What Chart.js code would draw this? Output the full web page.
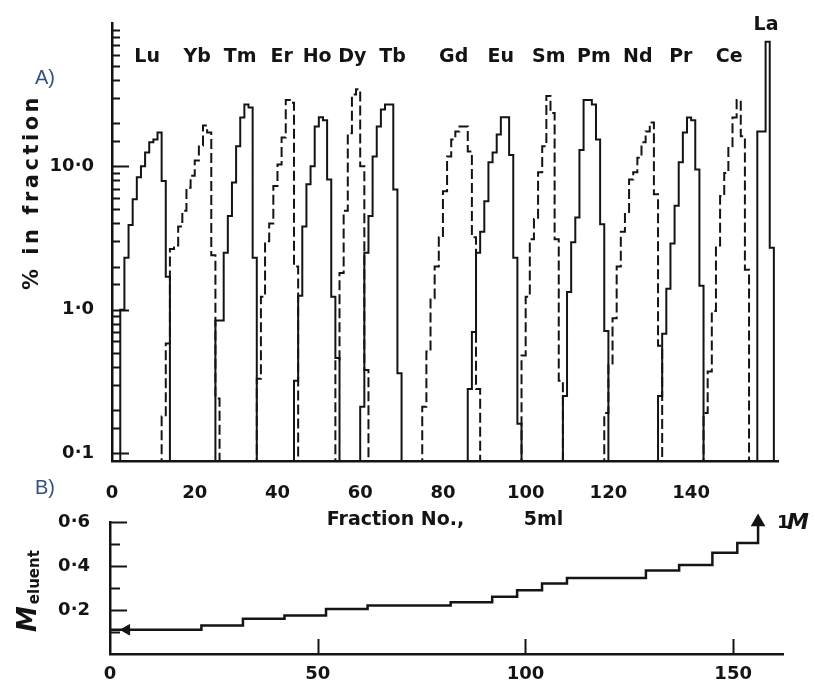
<!DOCTYPE html>
<html lang="en">
<head>
<meta charset="utf-8">
<title>Lanthanides - elution</title>
<script src="https://cdn.jsdelivr.net/npm/chart.js@4.4.1/dist/chart.umd.min.js"></script>
<style>
  html, body { margin: 0; padding: 0; background: #ffffff; }
  canvas { position: absolute; left: 0; }
  #canvaA { top: 0; }
  #canvaB { top: 470px; }
</style>
</head>
<body>
<canvas id="canvaA" width="815" height="540"></canvas>
<canvas id="canvaB" width="815" height="214"></canvas>
<script>
// lanthanides dans l'ordre d'élution
const elements = ['Lu', 'Yb', 'Tm', 'Er', 'Ho', 'Dy', 'Tb', 'Gd', 'Eu', 'Sm', 'Pm', 'Nd', 'Pr', 'Ce', 'La'];

// première fraction (5 ml) de chaque pic
const premiereFraction = [2, 12, 25, 35, 44, 54, 60, 75, 86, 99, 109, 119, 132, 143, 156];

// fraction au-dessus de laquelle on écrit le nom
const fractionNom = [8.5, 20.6, 31, 41, 49.6, 58.1, 67.8, 82.6, 94, 105.6, 116.5, 127.1, 137.5, 149.2, 158.1];

// % dans chaque fraction successive
const pctLu = [1.0, 2.3, 3.9, 5.9, 8.4, 10, 12.5, 14.7, 15.4, 17.2, 7.9, 1.7];
const pctYb = [0.18, 0.58, 2.65, 2.8, 3.8, 4.9, 7.1, 8.6, 11, 14, 19.3, 17.2, 2.4, 0.24];
const pctTm = [0.84, 0.84, 2.5, 4.5, 7.7, 13.8, 21.9, 27, 25.7, 2.3];
const pctEr = [0.33, 1.23, 3.0, 4.0, 7.3, 10.3, 15.9, 29, 27.8, 2.0];
const pctHo = [0.32, 1.25, 3.8, 7.5, 10, 19, 22, 21, 8.1, 1.23, 0.46];
const pctDy = [0.45, 1.8, 4.9, 17, 31.7, 34.5, 10, 0.38];
const pctTb = [0.21, 2.5, 4.5, 11.7, 19, 24.9, 27, 27, 6.9, 0.36];
const pctGd = [0.21, 0.51, 1.2, 2.0, 3.2, 6.7, 11.7, 15.4, 17.5, 19, 19, 12.7, 3.2, 0.28];
const pctEu = [0.28, 0.7, 2.5, 3.5, 5.7, 10.7, 12.5, 16.7, 22, 22, 12, 2.3, 0.16];
const pctSm = [0.48, 1.23, 3.1, 4.3, 9.1, 13.8, 31, 23.6, 3.1, 0.32];
const pctPm = [0.25, 1.33, 2.95, 4.4, 13, 29, 29, 27, 15.4, 3.95, 0.71];
const pctNd = [0.19, 0.41, 0.87, 2.0, 3.5, 4.8, 8.1, 9.1, 11.5, 14.7, 17.5, 20.2, 6.4, 0.56];
const pctPr = [0.25, 0.68, 1.4, 2.9, 5.3, 10.7, 17.2, 21.9, 21, 9.5, 1.47];
const pctCe = [0.19, 0.37, 0.98, 2.8, 6.2, 9, 13.8, 21.9, 29, 16.2, 1.9];
const pctLa = [17.5, 17.5, 74, 2.7];
const pourcentages = [pctLu, pctYb, pctTm, pctEr, pctHo, pctDy, pctTb, pctGd, pctEu, pctSm, pctPm, pctNd, pctPr, pctCe, pctLa];

// graduations
const graduationsPct = [0.1, 1, 10];
const graduationsFraction = [0, 20, 40, 60, 80, 100, 120, 140];
const graduationsFractionB = [0, 50, 100, 150];
const graduationsMolarite = [0.2, 0.4, 0.6];

// gradient d'éluant : fraction où commence chaque palier et sa molarité
const fractionPalier = [0, 22, 32, 42, 52, 62, 82, 92, 98, 104, 110, 129, 137, 145, 151];
const molarite = [0.11, 0.13, 0.16, 0.175, 0.205, 0.22, 0.235, 0.26, 0.29, 0.32, 0.345, 0.38, 0.405, 0.46, 0.505];
const fractionPassage1M = 156;
const molariteFleche = 0.6;

const noir = '#141414';
const plancher = 0.05; // sous l'axe, pour fermer les pics

// un pic = histogramme fraction par fraction
function histogramme(debut, valeurs) {
    const pts = [{x: debut, y: plancher}];
    valeurs.forEach((v, k) => pts.push({x: debut + k + 1, y: v}));
    pts.push({x: debut + valeurs.length, y: plancher});
    return pts;
}

const virgule = v => v.toFixed(1).replace('.', '\u00b7');

// ----- graphique A -----
const decorA = {
    id: 'decorA',
    afterDraw(chart) {
        const {ctx, chartArea, scales: {x, y}} = chart;
        ctx.save();
        ctx.strokeStyle = noir;
        ctx.lineWidth = 2;
        // graduations tournées vers l'intérieur
        y.ticks.forEach(t => {
            if (t.value < 0.099 || t.value > 99) return;
            const lg = Math.log10(t.value);
            const majeur = Math.abs(lg - Math.round(lg)) < 1e-6;
            const py = Math.round(y.getPixelForValue(t.value)) + 0.5;
            ctx.beginPath();
            ctx.moveTo(chartArea.left, py);
            ctx.lineTo(chartArea.left + (majeur ? 17 : 8), py);
            ctx.stroke();
        });

        ctx.fillStyle = noir;
        ctx.textAlign = 'center';
        ctx.textBaseline = 'middle';
        ctx.font = 'bold 19px "DejaVu Sans"';
        elements.forEach((nom, i) => {
            const haut = nom === 'La' ? 2 : 34;
            ctx.fillText(nom, x.getPixelForValue(fractionNom[i]), chartArea.top + haut);
        });

        // titre de l'axe y
        ctx.save();
        ctx.translate(33, 192);
        ctx.rotate(-Math.PI / 2);
        ctx.font = 'bold 21px "DejaVu Sans"';
        ctx.letterSpacing = '3.5px';
        ctx.fillText('% in fraction', 0, 0);
        ctx.restore();

        ctx.fillStyle = '#33507e';
        ctx.textAlign = 'left';
        ctx.font = '20px "Liberation Sans"';
        ctx.fillText('A)', 35, 78);
        ctx.restore();
    }
};

new Chart(document.getElementById('canvaA'), {
    type: 'line',
    data: {
        datasets: elements.map((nom, i) => ({
            label: nom,
            data: histogramme(premiereFraction[i], pourcentages[i]),
            stepped: 'after',
            borderColor: noir,
            borderWidth: 2,
            borderDash: i % 2 ? [10, 4] : [],
            pointRadius: 0,
            fill: false
        }))
    },
    options: {
        responsive: false,
        animation: false,
        layout: { padding: { left: 0, right: 37, top: 23, bottom: 0 } },
        plugins: { legend: { display: false }, tooltip: { enabled: false } },
        scales: {
            x: {
                type: 'linear',
                min: 0,
                max: 161,
                grid: { display: false },
                border: { display: true, color: noir, width: 2.5 },
                afterBuildTicks: s => { s.ticks = graduationsFraction.map(value => ({value})); },
                afterFit: s => { s.height = 540 - 461; },
                ticks: {
                    autoSkip: false,
                    maxRotation: 0,
                    padding: 14,
                    color: noir,
                    font: { family: 'DejaVu Sans', size: 18, weight: 'bold' }
                },
                title: {
                    display: true,
                    text: 'Fraction No.,         5ml',
                    color: noir,
                    padding: { top: 0, bottom: 9 },
                    font: { family: 'DejaVu Sans', size: 19, weight: 'bold' }
                }
            },
            y: {
                type: 'logarithmic',
                min: 0.088,
                max: 100,
                grid: { display: false },
                border: { display: true, color: noir, width: 2.5 },
                afterFit: s => { s.width = 112; },
                ticks: {
                    autoSkip: false,
                    padding: 10,
                    color: noir,
                    font: { family: 'DejaVu Sans', size: 18, weight: 'bold' },
                    callback: v => graduationsPct.some(g => Math.abs(g - v) < 1e-9) ? virgule(v) : ''
                }
            }
        }
    },
    plugins: [decorA]
});

// ----- graphique B -----
const decorB = {
    id: 'decorB',
    afterDraw(chart) {
        const {ctx, chartArea, scales: {x, y}} = chart;
        ctx.save();
        ctx.strokeStyle = noir;
        ctx.lineWidth = 2;
        y.ticks.forEach(t => {
            if (t.value <= 0) return;
            const majeur = Math.round(t.value * 10) % 2 === 0;
            const py = Math.round(y.getPixelForValue(t.value)) + 0.5;
            ctx.beginPath();
            ctx.moveTo(chartArea.left, py);
            ctx.lineTo(chartArea.left + (majeur ? 17 : 10), py);
            ctx.stroke();
        });
        x.ticks.forEach(t => {
            if (t.value <= 0) return;
            const px = Math.round(x.getPixelForValue(t.value)) + 0.5;
            ctx.beginPath();
            ctx.moveTo(px, chartArea.bottom);
            ctx.lineTo(px, chartArea.bottom - 15);
            ctx.stroke();
        });

        ctx.fillStyle = noir;
        // M eluent
        ctx.save();
        ctx.translate(36, 632 - 470);
        ctx.rotate(-Math.PI / 2);
        ctx.textAlign = 'left';
        ctx.textBaseline = 'alphabetic';
        ctx.font = 'italic bold 26px "DejaVu Sans"';
        ctx.fillText('M', 0, 0);
        const w = ctx.measureText('M').width;
        ctx.font = 'bold 15px "DejaVu Sans"';
        ctx.fillText('eluent', w + 2, 3);
        ctx.restore();

        // 1 M au bout de la flèche
        const ax = x.getPixelForValue(fractionPassage1M);
        const ay = y.getPixelForValue(molariteFleche);
        ctx.textAlign = 'left';
        ctx.textBaseline = 'middle';
        ctx.font = 'bold 18px "DejaVu Sans"';
        ctx.fillText('1', ax + 19, ay + 1);
        ctx.font = 'italic bold 22px "DejaVu Sans"';
        ctx.fillText('M', ax + 29, ay + 1);

        ctx.fillStyle = '#33507e';
        ctx.font = '20px "Liberation Sans"';
        ctx.fillText('B)', 35, 488 - 470);
        ctx.restore();
    }
};

const gradient = fractionPalier.map((f, k) => ({x: f, y: molarite[k]}));
gradient.push({x: fractionPassage1M, y: molarite[molarite.length - 1]});
gradient.push({x: fractionPassage1M, y: molariteFleche});

new Chart(document.getElementById('canvaB'), {
    type: 'line',
    data: {
        datasets: [{
            label: 'M eluent',
            data: gradient,
            stepped: 'before',
            borderColor: noir,
            borderWidth: 2.5,
            clip: false,
            pointStyle: 'triangle',
            pointRadius: gradient.map((p, k) => k === gradient.length - 1 ? 6 : 0),
            pointBackgroundColor: noir,
            pointBorderColor: noir,
            fill: false
        }, {
            label: 'départ',
            data: [{x: 4, y: molarite[0]}],
            showLine: false,
            pointStyle: 'triangle',
            pointRotation: 270,
            pointRadius: 6,
            pointBackgroundColor: noir,
            pointBorderColor: noir
        }]
    },
    options: {
        responsive: false,
        animation: false,
        layout: { padding: { left: 0, right: 32, top: 52, bottom: 0 } },
        plugins: { legend: { display: false }, tooltip: { enabled: false } },
        scales: {
            x: {
                type: 'linear',
                min: 0,
                max: 162,
                grid: { display: false },
                border: { display: true, color: noir, width: 2.5 },
                afterBuildTicks: s => { s.ticks = graduationsFractionB.map(value => ({value})); },
                afterFit: s => { s.height = 214 - 184; },
                ticks: {
                    autoSkip: false,
                    maxRotation: 0,
                    padding: 2,
                    color: noir,
                    font: { family: 'DejaVu Sans', size: 18, weight: 'bold' }
                }
            },
            y: {
                type: 'linear',
                min: 0,
                max: 0.6,
                grid: { display: false },
                border: { display: true, color: noir, width: 2.5 },
                afterFit: s => { s.width = 110; },
                ticks: {
                    stepSize: 0.1,
                    autoSkip: false,
                    padding: 12,
                    color: noir,
                    font: { family: 'DejaVu Sans', size: 18, weight: 'bold' },
                    callback: v => graduationsMolarite.some(g => Math.abs(g - v) < 1e-9) ? virgule(v) : ''
                }
            }
        }
    },
    plugins: [decorB]
});
</script>
</body>
</html>
